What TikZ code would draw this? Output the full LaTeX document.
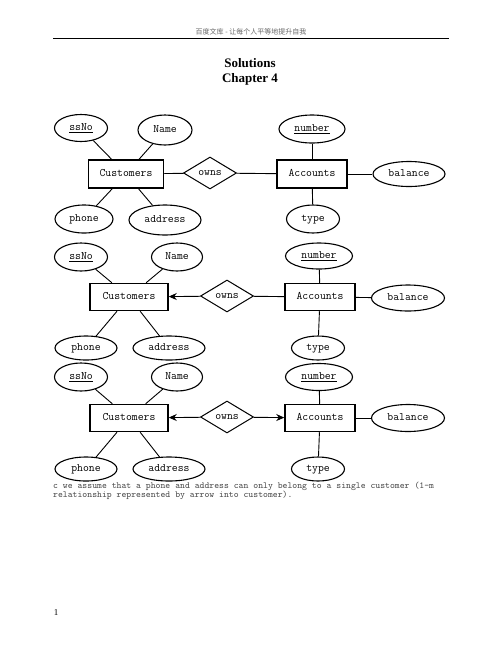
\documentclass[tikz,border=0pt]{standalone}
\usepackage{fontspec}
\setmainfont{Liberation Serif}
\newfontfamily\cjk{Noto Sans CJK SC}
\usetikzlibrary{positioning}
\usetikzlibrary{arrows.meta}
\usetikzlibrary{shapes.geometric}

\begin{document}
\begin{tikzpicture}[x=1pt, y=-1pt, >={Stealth[length=8pt,width=7pt]},
    entity/.style={draw, line width=1.5pt, minimum height=27pt, inner sep=0pt, text height=7pt, text depth=1.5pt, font=\ttfamily\fontsize{11.4}{13}\selectfont},
    rel/.style={draw, diamond, line width=1pt, minimum width=53pt, minimum height=32pt, inner sep=0pt, text height=7pt, text depth=1.5pt, font=\ttfamily\fontsize{11.4}{13}\selectfont},
    attr/.style={draw, ellipse, line width=1.1pt, inner sep=0pt, text height=7pt, text depth=1.5pt, font=\ttfamily\fontsize{11.4}{13}\selectfont},
    link/.style={line width=0.9pt}]
    \useasboundingbox (0,0) rectangle (502,649);
    % page header
    \node[text=black!60, font=\cjk\fontsize{7}{8}\selectfont] (head) at (251,32) {百度文库 - 让每个人平等地提升自我};
    \coordinate (hl) at (53,38);
    \coordinate (hr) at (449,38);
    \draw[line width=0.8pt] (hl) -- (hr);
    \node[align=center, font=\bfseries\fontsize{13}{15.5}\selectfont] (title) at (250,72) {Solutions\\Chapter 4};

    % first diagram
    \node[entity, minimum width=75pt, minimum height=28pt] (cust1) at (126,174) {Customers};
    \node[rel] (owns1) at (210,173) {owns};
    \node[entity, minimum width=70pt, minimum height=28pt] (acc1) at (312,174) {Accounts};
    \node[attr, minimum width=53pt, minimum height=27pt] (ssno1) at (81,128) {\underline{ssNo}};
    \node[attr, minimum width=54pt, minimum height=30pt] (name1) at (165,130) {Name};
    \node[attr, minimum width=58pt, minimum height=28pt] (phone1) at (84,219) {phone};
    \node[attr, minimum width=72pt, minimum height=30pt] (addr1) at (165,220) {address};
    \node[attr, minimum width=66pt, minimum height=28pt] (num1) at (312,129) {\underline{number}};
    \node[attr, minimum width=53pt, minimum height=28pt] (type1) at (313,219) {type};
    \node[attr, minimum width=72pt, minimum height=25pt] (bal1) at (409,174) {balance};
    \draw[link] (ssno1) -- (cust1);
    \draw[link] (name1) -- (cust1);
    \draw[link] (phone1) -- (cust1);
    \draw[link] (addr1) -- (cust1);
    \draw[link] (cust1) -- (owns1);
    \draw[link] (owns1) -- (acc1);
    \draw[link] (num1) -- (acc1);
    \draw[link] (type1) -- (acc1);
    \draw[link] (bal1) -- (acc1);

    % second diagram
    \node[entity, minimum width=78pt, minimum height=27pt] (cust2) at (129,297) {Customers};
    \node[rel] (owns2) at (227,296) {owns};
    \node[entity, minimum width=70pt, minimum height=27pt] (acc2) at (320,297) {Accounts};
    \node[attr, minimum width=53pt, minimum height=28pt] (ssno2) at (81,257) {\underline{ssNo}};
    \node[attr, minimum width=51pt, minimum height=28pt] (name2) at (177,257) {Name};
    \node[attr, minimum width=62pt, minimum height=24pt] (phone2) at (86,348) {phone};
    \node[attr, minimum width=72pt, minimum height=24pt] (addr2) at (169,348) {address};
    \node[attr, minimum width=67pt, minimum height=26pt] (num2) at (319,256) {\underline{number}};
    \node[attr, minimum width=53pt, minimum height=24pt] (type2) at (318,348) {type};
    \node[attr, minimum width=73pt, minimum height=26pt] (bal2) at (408,298) {balance};
    \draw[link] (ssno2) -- (cust2);
    \draw[link] (name2) -- (cust2);
    \draw[link] (phone2) -- (cust2);
    \draw[link] (addr2) -- (cust2);
    \draw[link, ->] (owns2) -- (cust2);
    \draw[link] (owns2) -- (acc2);
    \draw[link] (num2) -- (acc2);
    \draw[link] (type2) -- (acc2);
    \draw[link] (bal2) -- (acc2);

    % third diagram
    \node[entity, minimum width=78pt, minimum height=27pt] (cust3) at (129,418) {Customers};
    \node[rel] (owns3) at (227,417) {owns};
    \node[entity, minimum width=70pt, minimum height=27pt] (acc3) at (320,418) {Accounts};
    \node[attr, minimum width=53pt, minimum height=28pt] (ssno3) at (81,377) {\underline{ssNo}};
    \node[attr, minimum width=51pt, minimum height=28pt] (name3) at (177,377) {Name};
    \node[attr, minimum width=62pt, minimum height=24pt] (phone3) at (86,469) {phone};
    \node[attr, minimum width=72pt, minimum height=24pt] (addr3) at (169,469) {address};
    \node[attr, minimum width=67pt, minimum height=27pt] (num3) at (319,377) {\underline{number}};
    \node[attr, minimum width=53pt, minimum height=24pt] (type3) at (318,469) {type};
    \node[attr, minimum width=73pt, minimum height=27pt] (bal3) at (408,418) {balance};
    \draw[link] (ssno3) -- (cust3);
    \draw[link] (name3) -- (cust3);
    \draw[link] (phone3) -- (cust3);
    \draw[link] (addr3) -- (cust3);
    \draw[link, ->] (owns3) -- (cust3);
    \draw[link, ->] (owns3) -- (acc3);
    \draw[link] (num3) -- (acc3);
    \draw[link] (type3) -- (acc3);
    \draw[link] (bal3) -- (acc3);

    \node[anchor=north west, align=left, inner sep=0pt, text=black!70, font=\ttfamily\fontsize{9.3}{9}\selectfont] (note) at (53,482)
        {c we assume that a phone and address can only belong to a single customer (1-m\\relationship represented by arrow into customer).};
    \node[font=\fontsize{9}{10}\selectfont] (pg) at (56,613) {1};
\end{tikzpicture}
\end{document}
